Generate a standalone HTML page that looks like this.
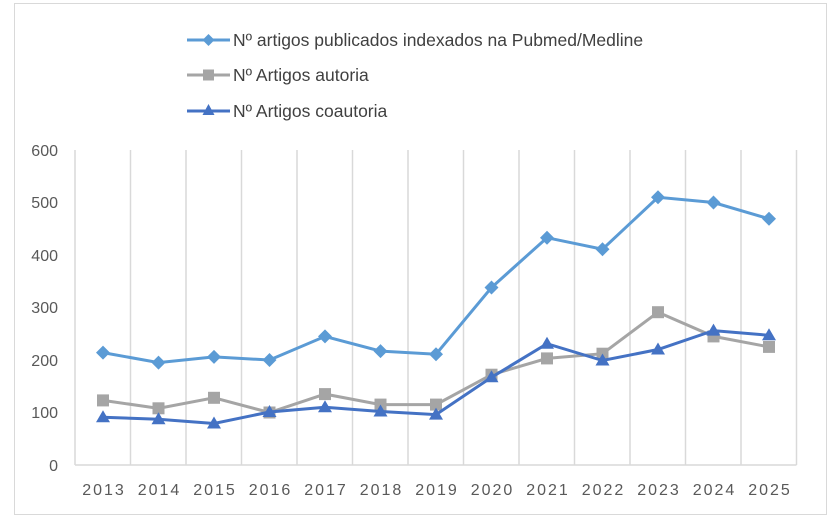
<!DOCTYPE html><html><head><style>body{margin:0;background:#fff}svg{display:block;font-family:"Liberation Sans",sans-serif}</style></head><body>
<svg width="837" height="524" viewBox="0 0 837 524">
<rect x="14.5" y="3.5" width="812" height="511" fill="#fff" stroke="#d9d9d9"/>
<g stroke="#d9d9d9" stroke-width="1.5">
<line x1="75" y1="150" x2="75" y2="465"/><line x1="130.5" y1="150" x2="130.5" y2="465"/><line x1="186" y1="150" x2="186" y2="465"/><line x1="241.5" y1="150" x2="241.5" y2="465"/><line x1="297" y1="150" x2="297" y2="465"/><line x1="352.5" y1="150" x2="352.5" y2="465"/><line x1="408" y1="150" x2="408" y2="465"/><line x1="463.5" y1="150" x2="463.5" y2="465"/><line x1="519" y1="150" x2="519" y2="465"/><line x1="574.5" y1="150" x2="574.5" y2="465"/><line x1="630" y1="150" x2="630" y2="465"/><line x1="685.5" y1="150" x2="685.5" y2="465"/><line x1="741" y1="150" x2="741" y2="465"/><line x1="796.5" y1="150" x2="796.5" y2="465"/>
<line x1="75" y1="465" x2="796.5" y2="465"/>
</g>
<g font-size="16" fill="#595959" text-anchor="end">
<text x="58" y="471">0</text><text x="58" y="418">100</text><text x="58" y="366">200</text><text x="58" y="313">300</text><text x="58" y="261">400</text><text x="58" y="208">500</text><text x="58" y="156">600</text>
</g>
<g font-size="16" fill="#595959" text-anchor="middle" letter-spacing="2">
<text x="104" y="495">2013</text><text x="159.5" y="495">2014</text><text x="215" y="495">2015</text><text x="270.5" y="495">2016</text><text x="326" y="495">2017</text><text x="381.5" y="495">2018</text><text x="437" y="495">2019</text><text x="492.5" y="495">2020</text><text x="548" y="495">2021</text><text x="603.5" y="495">2022</text><text x="659" y="495">2023</text><text x="714.5" y="495">2024</text><text x="770" y="495">2025</text>
</g>
<polyline fill="none" stroke="#5b9bd5" stroke-width="3" points="103,352.6 158.5,362.6 214,356.9 269.5,360 325,336.4 380.5,351.1 436,354.2 491.5,287.5 547,237.7 602.5,249.2 658,197.3 713.5,202.5 769,218.8"/>
<g fill="#5b9bd5">
<path d="M103,345.6l7,7-7,7-7-7z M158.5,355.6l7,7-7,7-7-7z M214,349.9l7,7-7,7-7-7z M269.5,353l7,7-7,7-7-7z M325,329.4l7,7-7,7-7-7z M380.5,344.1l7,7-7,7-7-7z M436,347.2l7,7-7,7-7-7z M491.5,280.5l7,7-7,7-7-7z M547,230.7l7,7-7,7-7-7z M602.5,242.2l7,7-7,7-7-7z M658,190.3l7,7-7,7-7-7z M713.5,195.5l7,7-7,7-7-7z M769,211.8l7,7-7,7-7-7z"/>
</g>
<polyline fill="none" stroke="#a5a5a5" stroke-width="3" points="103,400.4 158.5,408.3 214,397.8 269.5,412.5 325,394.1 380.5,404.6 436,404.6 491.5,374.7 547,358.4 602.5,353.7 658,312.2 713.5,336.4 769,346.9"/>
<g fill="#a5a5a5">
<rect x="97" y="394.4" width="12" height="12"/><rect x="152.5" y="402.3" width="12" height="12"/><rect x="208" y="391.8" width="12" height="12"/><rect x="263.5" y="406.5" width="12" height="12"/><rect x="319" y="388.1" width="12" height="12"/><rect x="374.5" y="398.6" width="12" height="12"/><rect x="430" y="398.6" width="12" height="12"/><rect x="485.5" y="368.7" width="12" height="12"/><rect x="541" y="352.4" width="12" height="12"/><rect x="596.5" y="347.7" width="12" height="12"/><rect x="652" y="306.2" width="12" height="12"/><rect x="707.5" y="330.4" width="12" height="12"/><rect x="763" y="340.9" width="12" height="12"/>
</g>
<polyline fill="none" stroke="#4472c4" stroke-width="3" points="103,417.2 158.5,419.3 214,423.5 269.5,412 325,407.3 380.5,411.5 436,414.6 491.5,377.3 547,343.7 602.5,360.5 658,349.5 713.5,330.6 769,335.3"/>
<g fill="#4472c4">
<path d="M103,410.2l7,12h-14z M158.5,412.3l7,12h-14z M214,416.5l7,12h-14z M269.5,405l7,12h-14z M325,400.3l7,12h-14z M380.5,404.5l7,12h-14z M436,407.6l7,12h-14z M491.5,370.3l7,12h-14z M547,336.7l7,12h-14z M602.5,353.5l7,12h-14z M658,342.5l7,12h-14z M713.5,323.6l7,12h-14z M769,328.3l7,12h-14z"/>
</g>
<g font-size="17.5" fill="#404040">
<line x1="187" y1="40" x2="230" y2="40" stroke="#5b9bd5" stroke-width="3"/><path d="M208.5,34l6,6-6,6-6-6z" fill="#5b9bd5"/>
<text x="233" y="46">Nº artigos publicados indexados na Pubmed/Medline</text>
<line x1="187" y1="75" x2="230" y2="75" stroke="#a5a5a5" stroke-width="3"/><rect x="203" y="69.5" width="11" height="11" fill="#a5a5a5"/>
<text x="233" y="81">Nº Artigos autoria</text>
<line x1="187" y1="111" x2="230" y2="111" stroke="#4472c4" stroke-width="3"/><path d="M208.5,104l6,11h-12z" fill="#4472c4"/>
<text x="233" y="117">Nº Artigos coautoria</text>
</g>
</svg></body></html>
